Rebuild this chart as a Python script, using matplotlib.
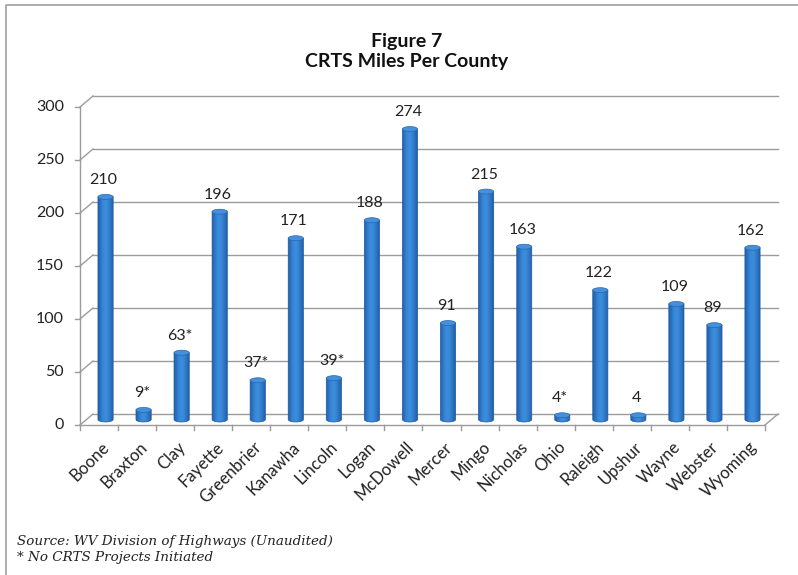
import numpy as np
import matplotlib.pyplot as plt
from matplotlib.patches import Ellipse, PathPatch
from matplotlib.path import Path
from matplotlib.lines import Line2D
from matplotlib.colors import LinearSegmentedColormap

counties = ["Boone", "Braxton", "Clay", "Fayette", "Greenbrier", "Kanawha",
            "Lincoln", "Logan", "McDowell", "Mercer", "Mingo", "Nicholas",
            "Ohio", "Raleigh", "Upshur", "Wayne", "Webster", "Wyoming"]
miles = [210, 9, 63, 196, 37, 171, 39, 188, 274, 91, 215, 163, 4, 122, 4, 109, 89, 162]
value_labels = ["210", "9*", "63*", "196", "37*", "171", "39*", "188", "274",
                "91", "215", "163", "4*", "122", "4", "109", "89", "162"]
y_ticks = [0, 50, 100, 150, 200, 250, 300]
title_lines = ["Figure 7", "CRTS Miles Per County"]
notes = ["Source: WV Division of Highways (Unaudited)", "* No CRTS Projects Initiated"]

W, H = 798, 575
fig = plt.figure(figsize=(W / 100, H / 100), dpi=100)
fig.patch.set_facecolor("white")

# plot area (front plane of the 3-D box)
ax = fig.add_axes([80 / W, (H - 425) / H, 685 / W, 318 / H])
ax.axis("off")
n = len(counties)

# depth offset of the back wall, in data units
dx, dy = 0.342, 10.4
grid_c = "#9c9c9c"
lw = 1.0
FONT = "Lato"
txt_c = "#222222"

def seg(x, y, **kw):
    ax.add_line(Line2D(x, y, color=kw.get("color", grid_c), lw=kw.get("lw", lw),
                       clip_on=False, zorder=kw.get("zorder", 1)))

# side wall diagonals, back wall gridlines, value-axis ticks
for t in y_ticks:
    seg([0, dx], [t, t + dy])
    seg([dx, n + dx], [t + dy, t + dy])
    seg([-0.13, 0], [t, t])
    ax.text(-0.42, t, str(t), ha="right", va="center", fontsize=11.5,
            family=FONT, color=txt_c)
seg([0, 0], [0, 300])

# floor
seg([0, n], [0, 0])
seg([n, n + dx], [0, dy])
for k in range(n + 1):
    seg([k, k], [0, -5])

# cylinders
cmap = LinearSegmentedColormap.from_list(
    "cyl", ["#2160aa", "#2d76c6", "#3988d8", "#3f8edc", "#3482d0", "#2a6fbc", "#205ca3"])
grad = np.linspace(0, 1, 64).reshape(1, -1)
bw, eh = 0.40, 4.7
for i, v in enumerate(miles):
    cx = i + 0.5 + dx / 2
    base = dy / 2
    top = base + v
    x0, x1 = cx - bw / 2, cx + bw / 2
    th = np.linspace(np.pi, 2 * np.pi, 40)
    verts = [(x0, top)] + list(zip(cx + bw / 2 * np.cos(th), base + eh / 2 * np.sin(th))) + [(x1, top), (x0, top)]
    codes = [Path.MOVETO] + [Path.LINETO] * (len(verts) - 2) + [Path.CLOSEPOLY]
    body = PathPatch(Path(verts, codes), fc="none", ec="#22589c", lw=0.5, zorder=4)
    ax.add_patch(body)
    im = ax.imshow(grad, cmap=cmap, extent=[x0, x1, base - eh / 2, top],
                   aspect="auto", zorder=3, interpolation="bilinear")
    im.set_clip_path(body)
    ax.add_patch(Ellipse((cx, top), bw, eh, fc="#4590dc", ec="#2a66ad", lw=0.5, zorder=5))
    ax.text(cx - 0.05, top + eh / 2 + 7, value_labels[i], ha="center", va="bottom",
            fontsize=11.5, family=FONT, color=txt_c, zorder=6)

# category labels
for i, name in enumerate(counties):
    ax.text(i + 0.56, -13, name, rotation=45, rotation_mode="anchor",
            ha="right", va="top", fontsize=12, family=FONT, color=txt_c)

ax.set_xlim(0, n)
ax.set_ylim(0, 300)

# title
fig.text(407 / W, 1 - 41 / H, title_lines[0], ha="center", va="center",
         fontsize=14, fontweight="bold", family=FONT, color="#111111")
fig.text(407 / W, 1 - 62 / H, title_lines[1], ha="center", va="center",
         fontsize=14, fontweight="bold", family=FONT, color="#111111")

# source notes
fig.text(17 / W, 1 - 542 / H, notes[0], ha="left", va="center", fontsize=9.7,
         family="DejaVu Serif", style="italic", color=txt_c)
fig.text(17 / W, 1 - 557 / H, notes[1], ha="left", va="center", fontsize=9.7,
         family="DejaVu Serif", style="italic", color=txt_c)

# chart frame
fig.add_artist(Line2D([6 / W, 6 / W, 1], [0, 1 - 5 / H, 1 - 5 / H],
                      transform=fig.transFigure, color="#a0a0a0", lw=1.2))

fig.savefig("out.png", dpi=100)
